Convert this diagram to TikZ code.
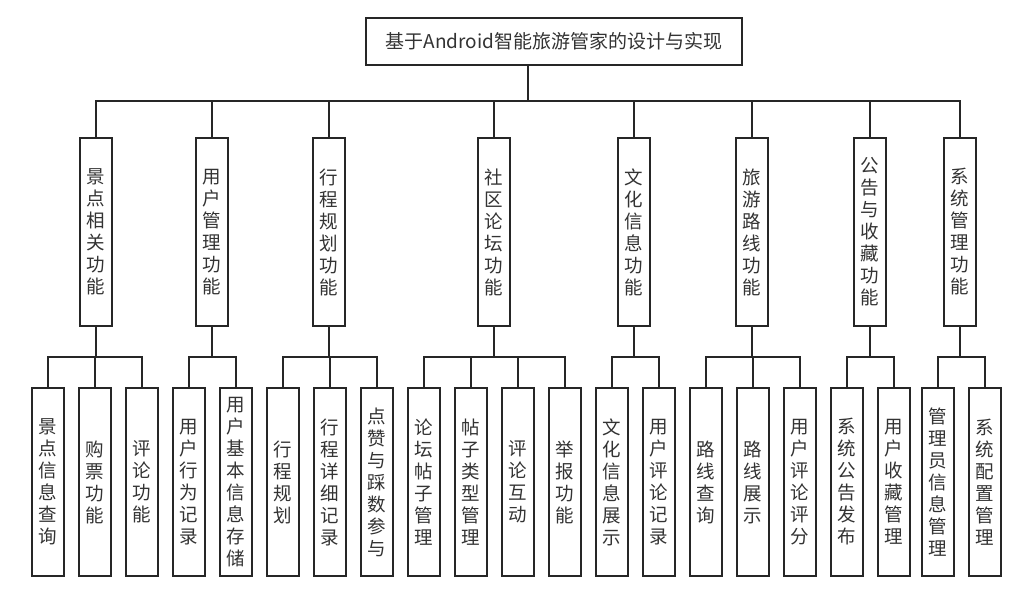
\documentclass[tikz,border=0pt]{standalone}
\usepackage{fontspec}
\newfontfamily\cjk{Noto Sans CJK SC}
\begin{document}
\begin{tikzpicture}[x=1pt,y=-1pt,
  conn/.style={line width=1.6pt, draw=black!85},
  box/.style={draw=black!85, line width=1.6pt, fill=white, inner sep=0pt,
    minimum width=32pt, minimum height=188pt, align=center, text=black!80,
    font=\cjk\fontsize{18.5}{22}\selectfont},
  rootbox/.style={draw=black!85, line width=1.6pt, fill=white, inner sep=0pt,
    minimum width=376pt, minimum height=47pt, text=black!80,
    font=\cjk\fontsize{19}{22}\selectfont}]
\fill[white] (0,0) rectangle (1031,593);
\useasboundingbox (0,0) rectangle (1031,593);

\node[rootbox] (root) at (554,41.5) {基于Android智能旅游管家的设计与实现};
\coordinate (rj) at (528,101);
\coordinate (sb) at (0,357);

% level 1
\node[box] (a1) at (96,232) {景\\点\\相\\关\\功\\能};
\node[box] (a2) at (212,232) {用\\户\\管\\理\\功\\能};
\node[box] (a3) at (329,232) {行\\程\\规\\划\\功\\能};
\node[box] (a4) at (494,232) {社\\区\\论\\坛\\功\\能};
\node[box] (a5) at (634,232) {文\\化\\信\\息\\功\\能};
\node[box] (a6) at (752,232) {旅\\游\\路\\线\\功\\能};
\node[box] (a7) at (870,232) {公\\告\\与\\收\\藏\\功\\能};
\node[box] (a8) at (960,232) {系\\统\\管\\理\\功\\能};

% level 2
\node[box] (b1) at (48,482) {景\\点\\信\\息\\查\\询};
\node[box] (b2) at (95,482) {购\\票\\功\\能};
\node[box] (b3) at (142,482) {评\\论\\功\\能};
\node[box] (b4) at (189,482) {用\\户\\行\\为\\记\\录};
\node[box] (b5) at (236,482) {用\\户\\基\\本\\信\\息\\存\\储};
\node[box] (b6) at (283,482) {行\\程\\规\\划};
\node[box] (b7) at (330,482) {行\\程\\详\\细\\记\\录};
\node[box] (b8) at (377,482) {点\\赞\\与\\踩\\数\\参\\与};
\node[box] (b9) at (424,482) {论\\坛\\帖\\子\\管\\理};
\node[box] (b10) at (471,482) {帖\\子\\类\\型\\管\\理};
\node[box] (b11) at (518,482) {评\\论\\互\\动};
\node[box] (b12) at (565,482) {举\\报\\功\\能};
\node[box] (b13) at (612,482) {文\\化\\信\\息\\展\\示};
\node[box] (b14) at (659,482) {用\\户\\评\\论\\记\\录};
\node[box] (b15) at (706,482) {路\\线\\查\\询};
\node[box] (b16) at (753,482) {路\\线\\展\\示};
\node[box] (b17) at (800,482) {用\\户\\评\\论\\评\\分};
\node[box] (b18) at (847,482) {系\\统\\公\\告\\发\\布};
\node[box] (b19) at (894,482) {用\\户\\收\\藏\\管\\理};
\node[box] (b20) at (938,482) {管\\理\\员\\信\\息\\管\\理};
\node[box] (b21) at (985,482) {系\\统\\配\\置\\管\\理};

% root to level 1
\draw[conn] (root.south -| rj) -- (rj);
\draw[conn] (a1.north) -- (a1.north |- rj) -- (a8.north |- rj) -- (a8.north);
\foreach \n in {a2,a3,a4,a5,a6,a7}
  \draw[conn] (\n.north) -- (\n.north |- rj);

% level 1 to level 2
\foreach \p/\f/\l/\m in {a1/b1/b3/b2, a2/b4/b5/b4, a3/b6/b8/b7, a4/b9/b12/b10,
                         a5/b13/b14/b13, a6/b15/b17/b16, a7/b18/b19/b18, a8/b20/b21/b20}{
  \draw[conn] (\p.south) -- (\p.south |- sb);
  \draw[conn] (\f.north) -- (\f.north |- sb) -- (\l.north |- sb) -- (\l.north);
  \draw[conn] (\m.north) -- (\m.north |- sb);
}
\draw[conn] (b11.north) -- (b11.north |- sb);
\end{tikzpicture}
\end{document}
